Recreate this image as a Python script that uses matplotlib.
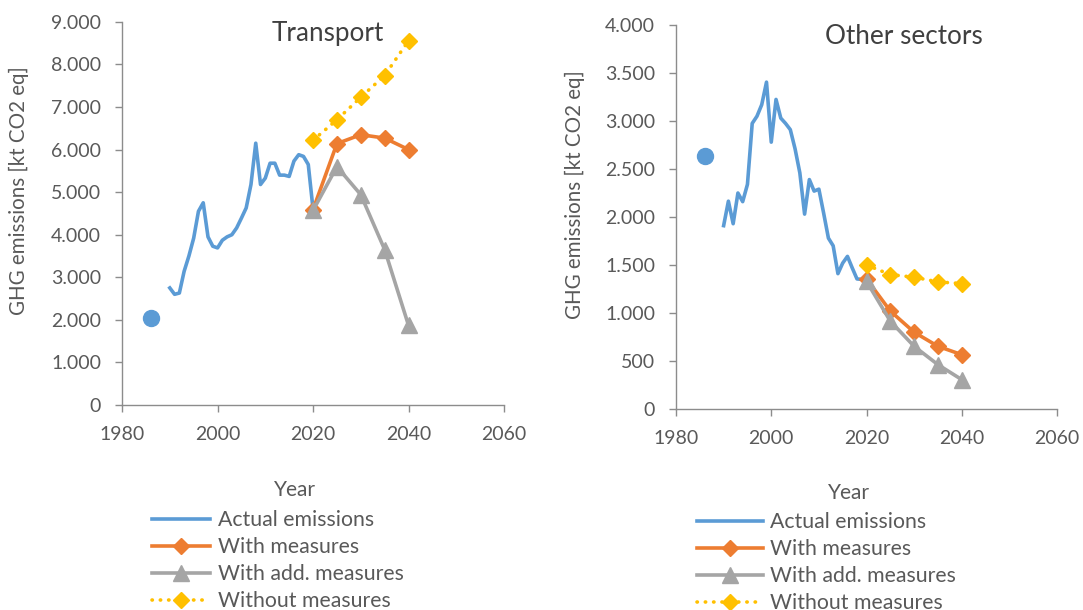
import matplotlib
matplotlib.use("Agg")
from matplotlib import pyplot as plt
from matplotlib.ticker import FuncFormatter, MultipleLocator

plt.rcParams['font.family'] = ['Lato', 'DejaVu Sans']

# --- data ---
years_actual = list(range(1990, 2021))
years_proj = [2020, 2025, 2030, 2035, 2040]
base_year = [1986]

transport_base = [2050]
transport_actual = [2750, 2600, 2630, 3140, 3500, 3920, 4550, 4750, 3950, 3730,
                    3690, 3870, 3950, 4000, 4160, 4390, 4630, 5180, 6150, 5180,
                    5330, 5680, 5680, 5400, 5400, 5370, 5730, 5880, 5840, 5650,
                    4600]
transport_wm = [4590, 6140, 6350, 6270, 6000]
transport_wam = [4570, 5600, 4940, 3650, 1870]
transport_wom = [6220, 6700, 7230, 7740, 8560]

other_base = [2638]
other_actual = [1910, 2165, 1930, 2250, 2160, 2340, 2975, 3050, 3170, 3405,
                2780, 3225, 3030, 2975, 2910, 2710, 2460, 2030, 2390, 2270,
                2290, 2040, 1780, 1700, 1410, 1520, 1590, 1470, 1355, 1350,
                1350]
other_wm = [1355, 1020, 800, 653, 566]
other_wam = [1330, 915, 653, 462, 306]
other_wom = [1500, 1400, 1373, 1324, 1307]

blue = '#5B9BD5'
orange = '#ED7D31'
grey = '#A5A5A5'
yellow = '#FFC000'
txt = '#595959'
axis_col = '#8C8C8C'

fig = plt.figure(figsize=(10.83, 6.10), dpi=100)
ax1 = fig.add_axes([0.1127, 0.3361, 0.3527, 0.628])
ax2 = fig.add_axes([0.6242, 0.3295, 0.3518, 0.6295])


def dot_fmt(v, pos):
    return f"{int(round(v)):,}".replace(',', '.')


def draw(ax, base, actual, wm, wam, wom, ymax, ystep, title, title_xy, title_fs,
         ylab_xy, xlab_xy, leg_xy, hlen):
    ax.plot(base_year, base, 'o', color=blue, markersize=11.5, zorder=3)
    a, = ax.plot(years_actual, actual, color=blue, lw=2.6, label='Actual emissions',
                 solid_joinstyle='round')
    w, = ax.plot(years_proj, wm, color=orange, lw=2.6, marker='D', markersize=8.5,
                 label='With measures')
    g, = ax.plot(years_proj, wam, color=grey, lw=2.6, marker='^', markersize=11,
                 label='With add. measures')
    y, = ax.plot(years_proj, wom, color=yellow, lw=2.6, linestyle=(0, (0.1, 2.2)),
                 marker='D', markersize=8.5, dash_capstyle='round',
                 label='Without measures')

    ax.set_xlim(1980, 2060)
    ax.set_ylim(0, ymax)
    ax.xaxis.set_major_locator(MultipleLocator(20))
    ax.yaxis.set_major_locator(MultipleLocator(ystep))
    ax.yaxis.set_major_formatter(FuncFormatter(dot_fmt))
    for s in ['top', 'right']:
        ax.spines[s].set_visible(False)
    for s in ['left', 'bottom']:
        ax.spines[s].set_color(axis_col)
        ax.spines[s].set_linewidth(1)
    ax.tick_params(direction='out', length=5, width=1, color=axis_col,
                   labelsize=14, labelcolor=txt, pad=10)
    ax.set_xlabel('Year', fontsize=15, color=txt)
    ax.xaxis.set_label_coords(*xlab_xy)
    ax.set_ylabel('GHG emissions [kt CO2 eq]', fontsize=14.8, color=txt)
    ax.yaxis.set_label_coords(*ylab_xy)
    ax.text(title_xy[0], title_xy[1], title, transform=ax.transAxes,
            fontsize=title_fs, color='#404040', ha='center', va='center')
    ax.legend(handles=[a, w, g, y], loc='upper left', bbox_to_anchor=leg_xy,
              bbox_transform=fig.transFigure, frameon=False, fontsize=15.3,
              labelcolor=txt, borderpad=0, borderaxespad=0, handlelength=hlen,
              handletextpad=0.33, labelspacing=0.33)


draw(ax1, transport_base, transport_actual, transport_wm, transport_wam,
     transport_wom, 9000, 1000, 'Transport', (0.539, 0.971), 18.8,
     (-0.243, 0.559), (0.453, -0.196), (0.1404, 0.164), 2.75)
draw(ax2, other_base, other_actual, other_wm, other_wam, other_wom,
     4000, 500, 'Other sectors', (0.598, 0.969), 18.8,
     (-0.239, 0.557), (0.454, -0.193), (0.6436, 0.160), 3.1)

fig.savefig('out.png', dpi=100)
